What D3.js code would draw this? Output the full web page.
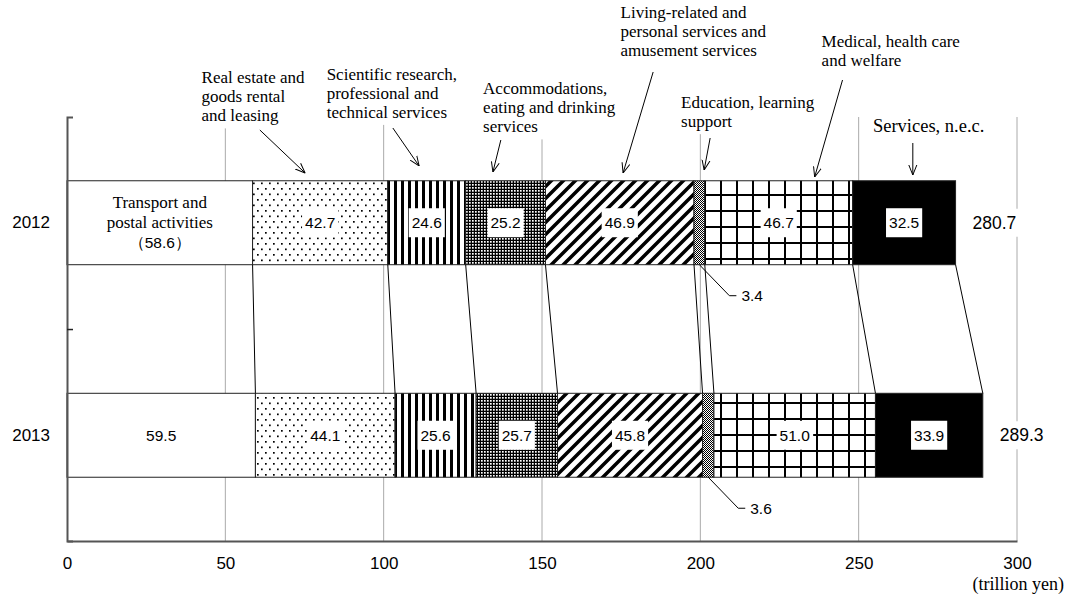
<!DOCTYPE html>
<html>
<head>
<meta charset="utf-8">
<script src="https://cdn.jsdelivr.net/npm/d3@7"></script>
<style>
body { margin: 0; background: #fff; }
.serif { font-family: "Liberation Serif", "Times New Roman", serif; }
.sans { font-family: "Liberation Sans", Arial, sans-serif; }
</style>
</head>
<body>
<script>
const w = 1069;
const h = 600;

// data
const years = ["2012", "2013"];
const industries = [
	"Transport and postal activities",
	"Real estate and goods rental and leasing",
	"Scientific research, professional and technical services",
	"Accommodations, eating and drinking services",
	"Living-related and personal services and amusement services",
	"Education, learning support",
	"Medical, health care and welfare",
	"Services, n.e.c."
];
const values2012 = [58.6, 42.7, 24.6, 25.2, 46.9, 3.4, 46.7, 32.5];
const values2013 = [59.5, 44.1, 25.6, 25.7, 45.8, 3.6, 51.0, 33.9];
const totals = [280.7, 289.3];
const xTicks = [0, 50, 100, 150, 200, 250, 300];

// annotation captions (x in data units, y in px)
const notes = [
	{lines: ["Real estate and", "goods rental", "and leasing"], tx: 42.5, ty: 83, from: [60.9, 130], to: [75.2, 173]},
	{lines: ["Scientific research,", "professional and", "technical services"], tx: 82.0, ty: 79.5, from: [102.9, 128], to: [111.2, 166]},
	{lines: ["Accommodations,", "eating and drinking", "services"], tx: 131.4, ty: 94, from: [137.0, 140], to: [134.5, 172]},
	{lines: ["Living-related and", "personal services and", "amusement services"], tx: 174.8, ty: 17.5, from: [185.1, 72], to: [175.6, 173]},
	{lines: ["Education, learning", "support"], tx: 193.9, ty: 108, from: [203.1, 138], to: [201.2, 170]},
	{lines: ["Medical, health care", "and welfare"], tx: 238.3, ty: 47, from: [244.9, 80], to: [236.1, 177]},
	{lines: ["Services, n.e.c."], tx: 254.5, ty: 131.5, from: [267.1, 143], to: [267.1, 175], big: true}
];

const fills = ["#fff", "url(#dots)", "url(#vstripe)", "url(#mesh)", "url(#diag)", "url(#checker)", "url(#grid)", "#000"];

const xScale = d3.scaleLinear().domain([0, 300]).range([67, 1017]);
const yScale = d3.scaleBand().domain(years).range([117, 541]).paddingInner(0.605).paddingOuter(0.3);

const svg = d3.select("body").append("svg")
	.attr("width", w)
	.attr("height", h);

// patterns
const defs = svg.append("defs");
let p = defs.append("pattern").attr("id", "dots").attr("patternUnits", "userSpaceOnUse").attr("width", 8).attr("height", 11);
p.append("rect").attr("width", 8).attr("height", 11).attr("fill", "#fff");
p.append("rect").attr("x", 1).attr("y", 1).attr("width", 1.7).attr("height", 1.7).attr("fill", "#000");
p.append("rect").attr("x", 5).attr("y", 6.5).attr("width", 1.7).attr("height", 1.7).attr("fill", "#000");

p = defs.append("pattern").attr("id", "vstripe").attr("patternUnits", "userSpaceOnUse").attr("width", 7).attr("height", 7);
p.append("rect").attr("width", 7).attr("height", 7).attr("fill", "#fff");
p.append("rect").attr("x", 2).attr("width", 3).attr("height", 7).attr("fill", "#000");

p = defs.append("pattern").attr("id", "mesh").attr("patternUnits", "userSpaceOnUse").attr("width", 3).attr("height", 3);
p.append("rect").attr("width", 3).attr("height", 3).attr("fill", "#000");
p.append("rect").attr("x", 1).attr("y", 1).attr("width", 1.7).attr("height", 1.7).attr("fill", "#fff");

p = defs.append("pattern").attr("id", "diag").attr("patternUnits", "userSpaceOnUse").attr("width", 12).attr("height", 12);
p.append("rect").attr("width", 12).attr("height", 12).attr("fill", "#fff");
p.append("path").attr("d", "M-3,3 L3,-3 M0,12 L12,0 M9,15 L15,9").attr("stroke", "#000").attr("stroke-width", 3.5);

p = defs.append("pattern").attr("id", "checker").attr("patternUnits", "userSpaceOnUse").attr("width", 2).attr("height", 2);
p.append("rect").attr("width", 2).attr("height", 2).attr("fill", "#fff");
p.append("rect").attr("width", 1).attr("height", 1).attr("fill", "#000");
p.append("rect").attr("x", 1).attr("y", 1).attr("width", 1).attr("height", 1).attr("fill", "#000");

p = defs.append("pattern").attr("id", "grid").attr("patternUnits", "userSpaceOnUse").attr("width", 16).attr("height", 16).attr("y", 2);
p.append("rect").attr("width", 16).attr("height", 16).attr("fill", "#fff");
p.append("rect").attr("x", 0).attr("width", 2).attr("height", 16).attr("fill", "#000");
p.append("rect").attr("y", 0).attr("width", 16).attr("height", 2).attr("fill", "#000");

defs.append("marker").attr("id", "arrow")
	.attr("viewBox", "0 0 10 10").attr("refX", 10).attr("refY", 5)
	.attr("markerWidth", 10).attr("markerHeight", 10).attr("markerUnits", "userSpaceOnUse")
	.attr("orient", "auto")
	.append("path").attr("d", "M0,1 L10,5 L0,9").attr("fill", "none").attr("stroke", "#000").attr("stroke-width", 1);

// gridlines
svg.append("g").selectAll("line")
	.data(xTicks.slice(1))
	.enter().append("line")
	.attr("x1", (d) => xScale(d)).attr("x2", (d) => xScale(d))
	.attr("y1", yScale.range()[0]).attr("y2", yScale.range()[1])
	.attr("stroke", "#aaa").attr("stroke-width", 1);

// stacked rows
const rows = [values2012, values2013].map((vals, r) => {
	let acc = 0;
	return vals.map((v, i) => {
		const d = {year: years[r], value: v, index: i, x0: acc, x1: acc + v};
		acc += v;
		return d;
	});
});

// connector lines between the two bars
const yb = yScale.bandwidth();
const bottom12 = yScale("2012") + yb;
const top13 = yScale("2013");
svg.append("g").selectAll("line")
	.data(rows[0])
	.enter().append("line")
	.attr("x1", (d) => xScale(d.x1))
	.attr("y1", bottom12)
	.attr("x2", (d, i) => xScale(rows[1][i].x1))
	.attr("y2", top13)
	.attr("stroke", "#000").attr("stroke-width", 1);

rows.forEach((row) => {
	svg.append("g").selectAll("rect")
		.data(row)
		.enter().append("rect")
		.attr("x", (d) => xScale(d.x0))
		.attr("y", (d) => yScale(d.year))
		.attr("width", (d) => xScale(d.x1) - xScale(d.x0))
		.attr("height", yb)
		.attr("fill", (d) => fills[d.index])
		.attr("stroke", "#222")
		.attr("stroke-width", 1);
});

// text with white box behind
function boxedText(g, x, y, str, cls, size, anchor, padX, padY) {
	const grp = g.append("g");
	const bg = grp.append("rect").attr("fill", "#fff");
	const t = grp.append("text")
		.attr("class", cls)
		.attr("x", x).attr("y", y)
		.attr("text-anchor", anchor)
		.attr("dominant-baseline", "central")
		.style("font-size", size + "px")
		.text(str);
	const bb = t.node().getBBox();
	bg.attr("x", bb.x - padX).attr("y", bb.y - padY)
		.attr("width", bb.width + 2 * padX).attr("height", bb.height + 2 * padY);
	return grp;
}

const labels = svg.append("g");
rows.forEach((row, r) => {
	row.forEach((d) => {
		const cx = (xScale(d.x0) + xScale(d.x1)) / 2;
		const cy = yScale(d.year) + yb / 2;
		if (d.index == 0) {
			if (r == 0) {
				const t = labels.append("text").attr("text-anchor", "middle").style("font-size", "17px");
				t.append("tspan").attr("class", "serif").attr("x", cx).attr("y", cy - 15).text("Transport and");
				t.append("tspan").attr("class", "serif").attr("x", cx).attr("y", cy + 5.5).text("postal activities");
				t.append("tspan").attr("class", "sans").attr("x", cx).attr("y", cy + 25).style("font-size", "15.5px").text("（" + d.value.toFixed(1) + "）");
			} else {
				labels.append("text").attr("class", "sans")
					.attr("x", cx).attr("y", cy)
					.attr("text-anchor", "middle").attr("dominant-baseline", "central")
					.style("font-size", "15.5px")
					.text(d.value.toFixed(1));
			}
		} else if (d.index == 5) {
			// small segment: leader line to the label below
			const by = yScale(d.year) + yb;
			labels.append("path")
				.attr("d", "M" + cx + "," + by + " L" + (cx + 30) + "," + (by + 31) + " h7")
				.attr("fill", "none").attr("stroke", "#000").attr("stroke-width", 1);
			labels.append("text").attr("class", "sans")
				.attr("x", cx + 42).attr("y", by + 31)
				.attr("dominant-baseline", "central")
				.style("font-size", "15.5px")
				.text(d.value.toFixed(1));
		} else {
			boxedText(labels, cx, cy, d.value.toFixed(1), "sans", 15.5, "middle", 3, 6);
		}
	});
	const last = row[row.length - 1];
	boxedText(labels, xScale(last.x1) + 17, yScale(last.year) + yb / 2, totals[r].toFixed(1), "sans", 17.5, "start", 2, 4);
});

// annotations
const ann = svg.append("g");
notes.forEach((n) => {
	const grp = ann.append("g");
	const bg = grp.append("rect").attr("fill", "#fff");
	const t = grp.append("text").attr("class", "serif")
		.style("font-size", n.big ? "18.5px" : "17px");
	n.lines.forEach((s, i) => {
		t.append("tspan").attr("x", xScale(n.tx)).attr("y", n.ty + i * 19.2).text(s);
	});
	const bb = t.node().getBBox();
	bg.attr("x", bb.x - 2).attr("y", bb.y - 2).attr("width", bb.width + 4).attr("height", bb.height + 5);
	ann.append("line")
		.attr("x1", xScale(n.from[0])).attr("y1", n.from[1])
		.attr("x2", xScale(n.to[0])).attr("y2", n.to[1])
		.attr("stroke", "#000").attr("stroke-width", 1)
		.attr("marker-end", "url(#arrow)");
});

// axes
const xAxis = d3.axisBottom(xScale).tickValues(xTicks).tickSize(0).tickPadding(16);
const gx = svg.append("g")
	.attr("transform", "translate(0," + yScale.range()[1] + ")")
	.call(xAxis);
gx.select(".domain").attr("stroke", "#555").attr("stroke-width", 2);
gx.selectAll("text").attr("class", "sans").style("font-size", "17px").attr("fill", "#000");

const yAxis = d3.axisLeft(yScale).tickSize(0).tickSizeOuter(-6).tickPadding(17);
const gy = svg.append("g")
	.attr("transform", "translate(" + xScale(0) + ",0)")
	.call(yAxis);
gy.select(".domain").attr("stroke", "#555").attr("stroke-width", 2);
gy.selectAll("text").attr("class", "sans").style("font-size", "17px").attr("fill", "#000");
gy.append("line")
	.attr("x1", 0).attr("x2", 6)
	.attr("y1", yScale.range()[0] + yScale.step()).attr("y2", yScale.range()[0] + yScale.step())
	.attr("stroke", "#222").attr("stroke-width", 1.5);

svg.append("text").attr("class", "serif")
	.attr("x", 1064).attr("y", 590)
	.attr("text-anchor", "end")
	.style("font-size", "18px")
	.text("(trillion yen)");
</script>
</body>
</html>
